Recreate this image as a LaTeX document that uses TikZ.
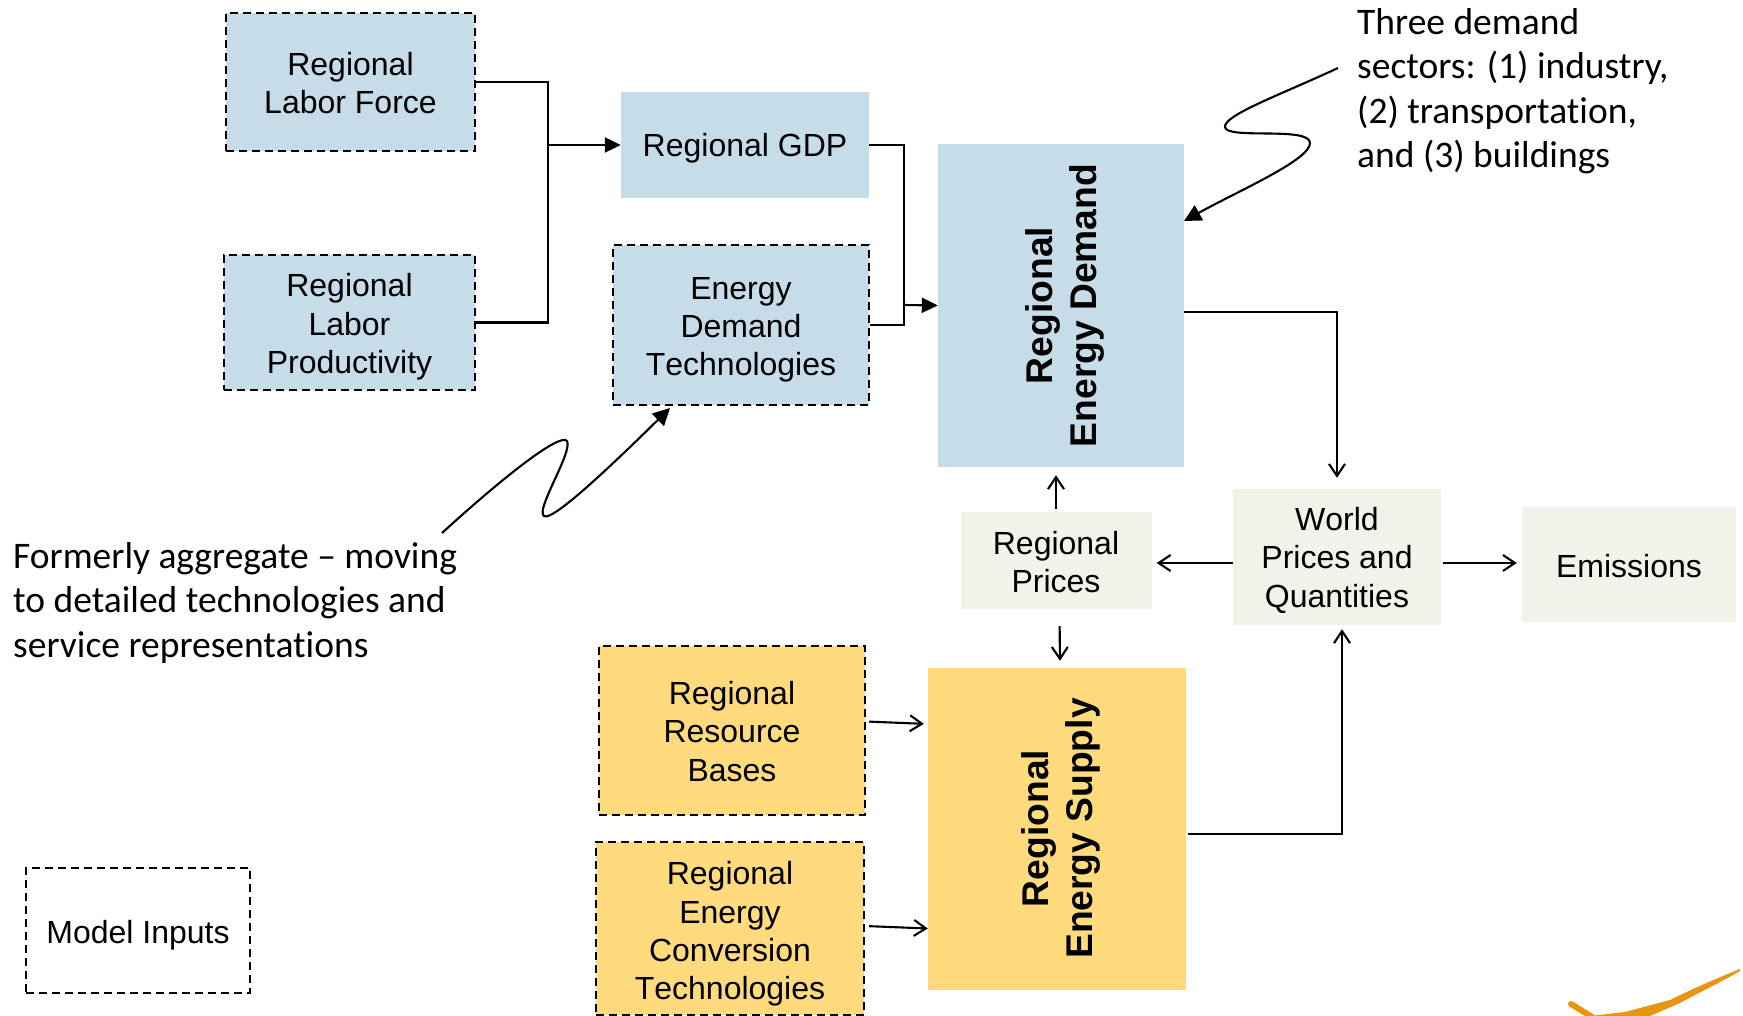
\documentclass[tikz,border=0pt]{standalone}
\usepackage{fontspec}
\setmainfont[Kerning=Off]{Liberation Sans}
\newfontfamily\notefont[Ligatures=NoCommon]{Carlito}
\usetikzlibrary{arrows.meta}
\definecolor{bluefill}{HTML}{C6DDE9}
\definecolor{yellowfill}{HTML}{FFDB7D}
\definecolor{greyfill}{HTML}{F2F2EA}
\definecolor{swoosh}{HTML}{E8950F}
\newcommand{\pushdown}[1]{\rule{0pt}{\dimexpr 23pt+#1pt+#1pt\relax}}
\tikzset{
  x=1pt,y=-1pt,
  boxbase/.style={inner sep=0pt,align=center,font=\fontsize{32}{38.2}\selectfont,text=black},
  plain/.style={boxbase,draw=none},
  dashbox/.style={boxbase,draw=black,line width=2.2pt,dash pattern=on 8pt off 5pt},
  big/.style={boxbase,font=\fontsize{37.2}{44.5}\selectfont\bfseries},
  link/.style={draw=black,line width=2.1pt},
  solidarr/.style={link,-{Triangle[length=16pt,width=15pt]}},
  openarr/.style={link,-{Straight Barb[length=12pt,width=16pt,line width=2.1pt]}},
  note/.style={inner sep=0pt,align=left,anchor=north west,font=\notefont\fontsize{37.5}{44.5}\selectfont,text=black}
}
\begin{document}
\begin{tikzpicture}
\useasboundingbox (0,0) rectangle (1743,1016);

\node[dashbox,fill=bluefill,minimum width=249pt,minimum height=138pt] (lf) at (350.5,82) {\pushdown{1}Regional\\Labor Force};
\node[dashbox,fill=bluefill,minimum width=251pt,minimum height=135pt] (prod) at (349.5,322.5) {\pushdown{4.5}Regional\\Labor\\Productivity};
\node[plain,fill=bluefill,minimum width=248pt,minimum height=106pt] (gdp) at (745,145) {\pushdown{3.5}Regional GDP};
\node[dashbox,fill=bluefill,minimum width=256pt,minimum height=160pt] (edt) at (741,325) {\pushdown{4.5}Energy\\Demand\\Technologies};
\node[plain,fill=bluefill,minimum width=246pt,minimum height=323pt] (dem) at (1061,305.5) {};
\node[big,rotate=90] (demt) at (1065,305.5) {Regional\\Energy Demand};
\node[plain,fill=greyfill,minimum width=191pt,minimum height=97pt] (pr) at (1056,560.5) {\pushdown{1.5}Regional\\Prices};
\node[plain,fill=greyfill,minimum width=208pt,minimum height=136pt] (wo) at (1337,557) {\pushdown{3.5}World\\Prices and\\Quantities};
\node[plain,fill=greyfill,minimum width=214pt,minimum height=115pt] (em) at (1629,564.5) {\pushdown{2}Emissions};
\node[plain,fill=yellowfill,minimum width=258pt,minimum height=322pt] (sup) at (1057,829) {};
\node[big,rotate=90] (supt) at (1061,828.5) {Regional\\Energy Supply};
\node[dashbox,fill=yellowfill,minimum width=266pt,minimum height=169pt] (rrb) at (732,730.5) {\pushdown{1}Regional\\Resource\\Bases};
\node[dashbox,fill=yellowfill,minimum width=268pt,minimum height=173pt] (rec) at (730,928.5) {\pushdown{5.5}Regional\\Energy\\Conversion\\Technologies};
\node[dashbox,minimum width=224pt,minimum height=125pt] (mi) at (138,930.5) {\pushdown{4.5}Model Inputs};

\node[note] (n1) at (1357,8) {Three demand\\sectors: (1) industry,\\(2) transportation,\\and (3) buildings};
\node[note] (n2) at (13,542) {Formerly aggregate – moving\\to detailed technologies and\\service representations};

\coordinate (j1) at (548,145);
\coordinate (j2) at (904,305);
\draw[link] (lf.east) -| (j1) |- (prod.east);
\draw[solidarr] (j1) -- (gdp.west);
\draw[link] (gdp.east) -| (j2) |- (edt.east);
\draw[solidarr] (j2) -- (dem.west);

\draw[openarr,shorten >=11pt] ([yshift=-6.5pt]dem.east) -| (wo.north);
\draw[openarr,shorten <=3pt,shorten >=8pt] (pr.north) -- (pr.north |- dem.south);
\draw[openarr,shorten >=5pt] ([yshift=-6pt]wo.west) -- ([yshift=-2.5pt]pr.east);
\draw[openarr,shorten <=2pt,shorten >=5pt] ([yshift=-6pt]wo.east) -- ([yshift=1.5pt]em.west);
\draw[openarr,shorten <=17pt,shorten >=7pt] ([xshift=3.5pt]pr.south) -- ([xshift=3pt]sup.north);
\draw[openarr,shorten <=3pt,shorten >=4pt] ([yshift=9pt]rrb.east) -- ([yshift=105pt]sup.west);
\draw[openarr,shorten <=4pt] ([yshift=2.5pt]rec.east) -- (rec.east -| sup.west);
\draw[openarr,shorten <=2pt,shorten >=4pt] ([yshift=-5pt]sup.east) -| ([xshift=5pt]wo.south);

\coordinate (s1) at (1338,68);
\coordinate (s2) at (1184,221);
\draw[link,-{Triangle[length=17pt,width=17pt]}] (s1) .. controls (1280,95) and (1224,115) .. (1225,127)
  .. controls (1226,140) and (1310,126) .. (1310,143)
  .. controls (1310,160) and (1240,190) .. (s2);

\coordinate (s3) at (442,533);
\coordinate (s4) at (670,408);
\draw[link,-{Triangle[length=17pt,width=17pt]}] (s3) .. controls (500,480) and (560,432) .. (567,441)
  .. controls (573,452) and (535,510) .. (544,516)
  .. controls (552,522) and (610,467) .. (s4);

% swoosh logo at the corner
\fill[swoosh] (1740,969) .. controls (1715,979) and (1690,990) .. (1670,1000) -- (1625,1012) -- (1590,1016) -- (1650,1016) -- (1680,1003) .. controls (1700,992) and (1725,980) .. (1740,971) -- cycle;
\draw[swoosh,line width=6pt,line cap=round] (1571,1004) -- (1592,1017);
\end{tikzpicture}
\end{document}
